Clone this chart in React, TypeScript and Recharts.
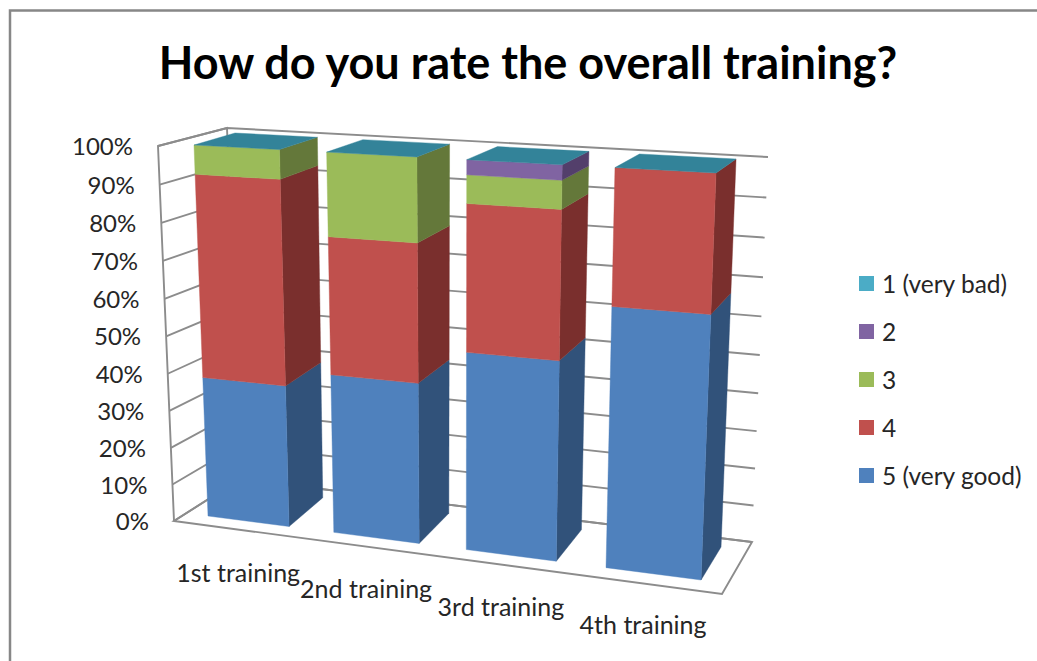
import React from "react";
import { BarChart, Bar, XAxis, YAxis, CartesianGrid, Legend, usePlotArea } from "recharts";

const categories = ["1st training", "2nd training", "3rd training", "4th training"];
const veryGood = [38.6, 42.8, 52, 66.6];
const four = [53.9, 35.9, 37.3, 33.4];
const three = [7.5, 21.3, 7, 0];
const two = [0, 0, 3.7, 0];
const veryBad = [0, 0, 0, 0];
const yTicks = [0, 10, 20, 30, 40, 50, 60, 70, 80, 90, 100];

const seriesNames = ["5 (very good)", "4", "3", "2", "1 (very bad)"];
const seriesKeys = ["s5", "s4", "s3", "s2", "s1"];
const seriesValues = [veryGood, four, three, two, veryBad];
const frontColors = ["#4f81bd", "#c0504d", "#9bbb59", "#8064a2", "#4bacc6"];
const sideColors = ["#31527a", "#7a2f2d", "#64783a", "#533f6b", "#2f7f94"];
const TOP_COLOR = "#338399";

const rows = categories.map((name, i) => {
  const row: any = { name };
  seriesKeys.forEach((k, s) => (row[k] = seriesValues[s][i]));
  return row;
});

type P = [number, number];
function quad(p0: P, p1: P, p2: P, p3: P) {
  const dx1 = p1[0] - p2[0], dx2 = p3[0] - p2[0], sx = p0[0] - p1[0] + p2[0] - p3[0];
  const dy1 = p1[1] - p2[1], dy2 = p3[1] - p2[1], sy = p0[1] - p1[1] + p2[1] - p3[1];
  const den = dx1 * dy2 - dx2 * dy1;
  const g = (sx * dy2 - dx2 * sy) / den, h = (dx1 * sy - sx * dy1) / den;
  const a = p1[0] - p0[0] + g * p1[0], b = p3[0] - p0[0] + h * p3[0], c = p0[0];
  const d = p1[1] - p0[1] + g * p1[1], e = p3[1] - p0[1] + h * p3[1], f = p0[1];
  return (u: number, v: number): P => {
    const w = g * u + h * v + 1;
    return [(a * u + b * v + c) / w, (d * u + e * v + f) / w];
  };
}

// projection planes: bottom-left, bottom-right, top-right, top-left
const frontPlane = quad([208, 516], [701, 580], [716, 173], [194, 145]);
const backPlane = quad([244, 488], [721, 547], [736, 159], [235, 133]);
const backWall = quad([240, 479], [752, 542], [768, 157], [227, 128]);
const sideWall = quad([174, 521], [240, 479], [227, 128], [158, 146]);
const floor = [[174, 521], [722, 594], [752, 542], [240, 479]];

const GAP = 0.175;
const EDGE = GAP / categories.length;
const GRID = "#8c8c8c";
const FONT = "Lato, sans-serif";

const poly = (pts: P[]) => pts.map((p) => `${p[0].toFixed(2)},${p[1].toFixed(2)}`).join(" ");

function useNorm() {
  const pa: any = usePlotArea() || { x: 0, y: 0, width: 1, height: 1 };
  return {
    u: (x: number) => ((x - pa.x) / pa.width - EDGE) / (1 - 2 * EDGE),
    v: (y: number) => (pa.y + pa.height - y) / pa.height,
  };
}

function Segment(props: any) {
  const { x, y, width, height, fill, seriesIndex } = props;
  const n = useNorm();
  const u0 = n.u(x), u1 = n.u(x + width), vb = n.v(y + height), vt = n.v(y);
  const side = sideColors[seriesIndex];
  return (
    <g>
      {height > 0 && (
        <>
          <polygon points={poly([frontPlane(u1, vb), backPlane(u1, vb), backPlane(u1, vt), frontPlane(u1, vt)])} fill={side} stroke={side} strokeWidth={0.4} />
          <polygon points={poly([frontPlane(u0, vb), frontPlane(u1, vb), frontPlane(u1, vt), frontPlane(u0, vt)])} fill={fill} stroke={fill} strokeWidth={0.4} />
        </>
      )}
      {seriesIndex === seriesKeys.length - 1 && (
        <polygon points={poly([frontPlane(u0, vt), frontPlane(u1, vt), backPlane(u1, vt), backPlane(u0, vt)])} fill={TOP_COLOR} stroke={TOP_COLOR} strokeWidth={0.4} />
      )}
    </g>
  );
}

function GridLine(props: any) {
  const n = useNorm();
  const v = n.v(props.y1);
  const a = sideWall(0, v), b = backWall(0, v), c = backWall(1, v);
  return <polyline points={poly([a, b, c])} fill="none" stroke={GRID} strokeWidth={1.9} />;
}

function Walls() {
  const a = sideWall(0, 0), at = sideWall(0, 1), b = backWall(0, 0), bt = backWall(0, 1);
  return (
    <g>
      <path d="M10,661 V10.5 H1037" fill="none" stroke="#878787" strokeWidth={2.5} />
      <text x={528} y={62} textAnchor="middle" dominantBaseline="central" fontFamily={FONT} fontWeight={700} fontSize={45} fill="#000">
        How do you rate the overall training?
      </text>
      <polygon points={floor.map((p) => p.join(",")).join(" ")} fill="none" stroke={GRID} strokeWidth={1.9} />
      <polyline points={poly([a, at, bt, b])} fill="none" stroke={GRID} strokeWidth={1.9} />
    </g>
  );
}

function XTick(props: any) {
  const n = useNorm();
  const [px, py] = frontPlane(n.u(props.x), 0);
  return (
    <text x={px - 10} y={py + 50.5} textAnchor="middle" dominantBaseline="central" fontFamily={FONT} fontSize={25} fill="#262626">
      {props.payload.value}
    </text>
  );
}

function YTick(props: any) {
  const n = useNorm();
  const [px, py] = sideWall(0, n.v(props.y));
  return (
    <text x={px - 25} y={py - 0.5} textAnchor="end" dominantBaseline="central" fontFamily={FONT} fontSize={24} fill="#262626">
      {`${props.payload.value}%`}
    </text>
  );
}

function LegendBox(props: any) {
  const items = props.payload || [];
  return (
    <div style={{ fontFamily: FONT, fontSize: 24.5, color: "#262626" }}>
      {items.map((it: any) => (
        <div key={it.value} style={{ display: "flex", alignItems: "center", height: 48 }}>
          <span style={{ width: 15, height: 15, background: it.color, marginRight: 8, flex: "none" }} />
          <span style={{ whiteSpace: "nowrap" }}>{it.value}</span>
        </div>
      ))}
    </div>
  );
}

export default function App() {
  return (
    <div style={{ position: "absolute", left: 0, top: 0, width: 1037, height: 661, background: "#fff", overflow: "hidden" }}>
      <BarChart
        width={1037}
        height={661}
        data={rows}
        barCategoryGap={`${GAP * 100}%`}
        margin={{ top: 130, right: 280, bottom: 70, left: 150 }}
      >
        <Walls />
        <CartesianGrid vertical={false} horizontal={(p: any) => <GridLine key={p.key ?? p.y1} {...p} />} />
        <XAxis dataKey="name" axisLine={false} tickLine={false} interval={0} tick={(p: any) => <XTick {...p} />} />
        <YAxis domain={[0, 100]} ticks={yTicks} axisLine={false} tickLine={false} tick={(p: any) => <YTick {...p} />} />
        <Legend
          layout="vertical"
          align="right"
          verticalAlign="middle"
          content={(p: any) => <LegendBox {...p} />}
          itemSorter={(item: any) => -seriesNames.indexOf(item.value)}
          wrapperStyle={{ left: 859, top: 259, right: "auto", width: 178 }}
        />
        {seriesKeys.map((k, s) => (
          <Bar
            key={k}
            dataKey={k}
            name={seriesNames[s]}
            stackId="a"
            fill={frontColors[s]}
            isAnimationActive={false}
            shape={(p: any) => <Segment {...p} seriesIndex={s} />}
          />
        ))}
      </BarChart>
    </div>
  );
}
